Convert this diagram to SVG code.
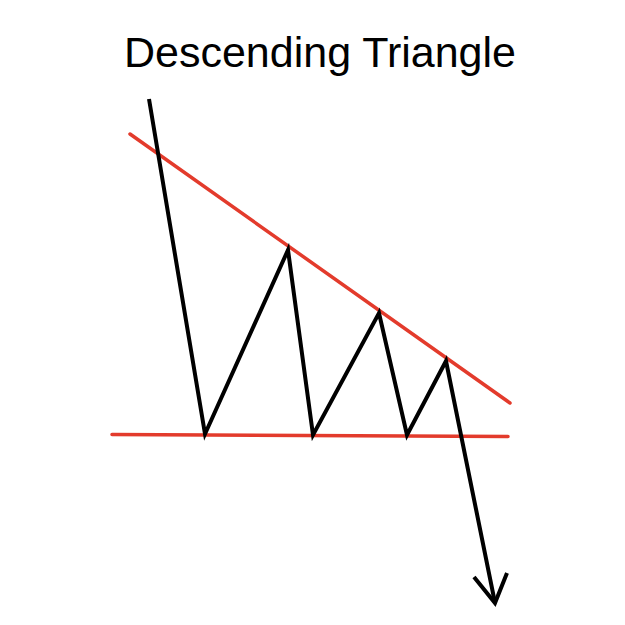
<svg xmlns="http://www.w3.org/2000/svg" width="625" height="625" viewBox="0 0 625 625">
<style>
.title{font-family:"Liberation Sans",Arial,sans-serif;font-size:43px;fill:#000}
.red{stroke:#e33b2c;stroke-width:3.5;fill:none;stroke-linecap:round}
.blk{stroke:#000;stroke-width:4;fill:none;stroke-linejoin:miter;stroke-linecap:butt}
</style>
<rect width="625" height="625" fill="#fff"/>
<text id="title" class="title" x="320" y="67" text-anchor="middle">Descending Triangle</text>
<g id="trendlines">
<line class="red" x1="130" y1="134" x2="510" y2="403"/>
<line class="red" x1="112" y1="434.5" x2="508" y2="436.5"/>
</g>
<g id="price">
<polyline class="blk" points="149,99 205,434 288,250 313,435 379,313 407,435 446,361 495,603"/>
<polyline class="blk" points="474,577 495,603 507,573"/>
</g>
</svg>
